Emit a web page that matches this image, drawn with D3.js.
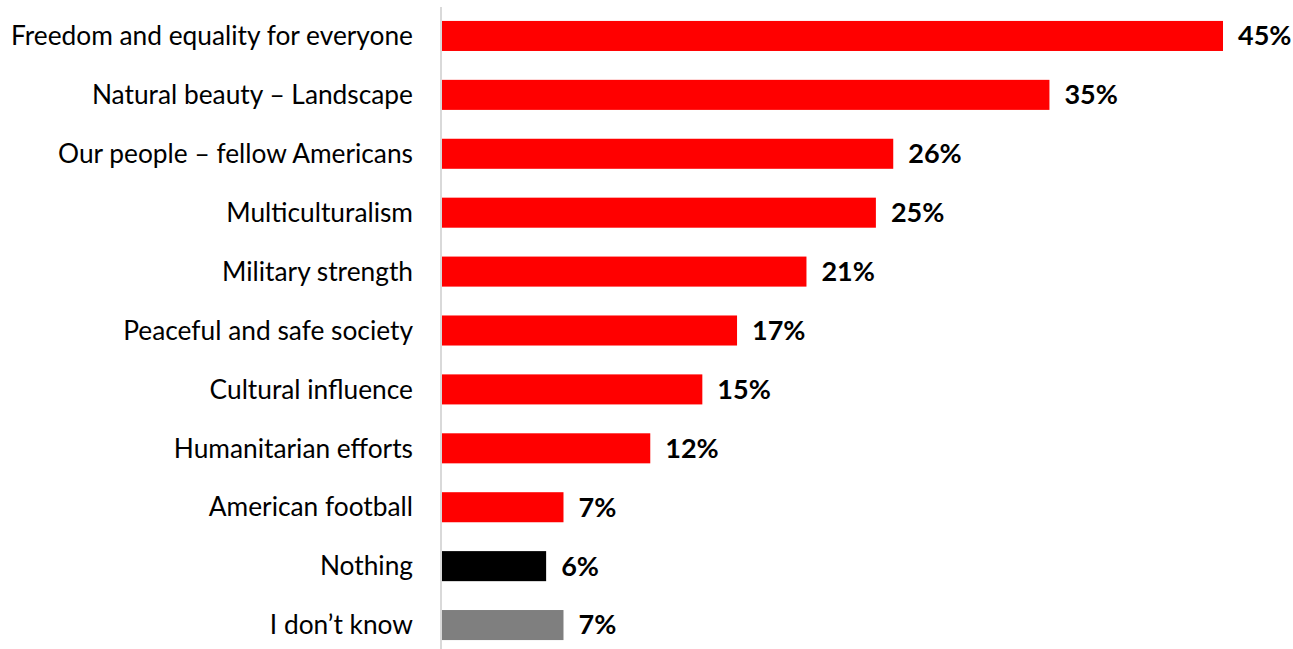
<!DOCTYPE html>
<html>
<head>
<meta charset="utf-8">
<script src="https://cdn.jsdelivr.net/npm/d3@7"></script>
<style>
  html, body { margin: 0; padding: 0; background: #fff; }
  svg { display: block; }
  .cat { font-family: Lato, "Open Sans", sans-serif; font-size: 26.3px; fill: #000; }
  .val { font-family: Lato, "Open Sans", sans-serif; font-size: 27px; font-weight: bold; fill: #000; }
</style>
</head>
<body>
<svg id="chart" width="1293" height="649"></svg>
<script>
// Survey answers, top to bottom
const categories = [
  "Freedom and equality for everyone",
  "Natural beauty \u2013 Landscape",
  "Our people \u2013 fellow Americans",
  "Multiculturalism",
  "Military strength",
  "Peaceful and safe society",
  "Cultural influence",
  "Humanitarian efforts",
  "American football",
  "Nothing",
  "I don\u2019t know"
];
// Share of respondents (%)
const values = [45, 35, 26, 25, 21, 17, 15, 12, 7, 6, 7];
const valueLabels = ["45%", "35%", "26%", "25%", "21%", "17%", "15%", "12%", "7%", "6%", "7%"];

const data = categories.map((c, i) => ({ cat: c, value: values[i], label: valueLabels[i] }));

// Bar fill: non-answers are drawn in neutral tones
function barFill(d) {
  if (d.cat === "Nothing") return "#000000";
  if (d.cat === "I don\u2019t know") return "#7f7f7f";
  return "#ff0000";
}

const svg = d3.select("#chart");
const W = 1293, H = 649;
const x0 = 442;

const x = d3.scaleLinear().domain([0, 45]).range([x0, 1223]);
const y = d3.scaleBand().domain(categories).range([6.5, 654.5]).paddingInner(0.49).paddingOuter(0.245);

// Bars
svg.append("g").selectAll("rect")
  .data(data)
  .join("rect")
  .attr("x", x(0))
  .attr("y", d => y(d.cat))
  .attr("width", d => x(d.value) - x(0))
  .attr("height", y.bandwidth())
  .attr("fill", barFill);

// Category axis (labels only, vertical rule drawn separately)
const yAxis = svg.append("g")
  .attr("transform", `translate(${x0 - 29},0)`)
  .call(d3.axisLeft(y).tickSize(0).tickPadding(0));
yAxis.select(".domain").remove();
yAxis.attr("font-family", null).attr("font-size", null);
yAxis.selectAll("text")
  .attr("class", "cat")
  .attr("dy", "0.35em");

// Vertical baseline rule
svg.append("line")
  .attr("x1", x0 - 1).attr("x2", x0 - 1)
  .attr("y1", 7).attr("y2", H)
  .attr("stroke", "#d9d9d9")
  .attr("stroke-width", 2);

// Value labels
svg.append("g").selectAll("text")
  .data(data)
  .join("text")
  .attr("class", "val")
  .attr("x", d => x(d.value) + 15)
  .attr("y", d => y(d.cat) + y.bandwidth() / 2)
  .attr("dy", "0.35em")
  .text(d => d.label);
</script>
</body>
</html>
